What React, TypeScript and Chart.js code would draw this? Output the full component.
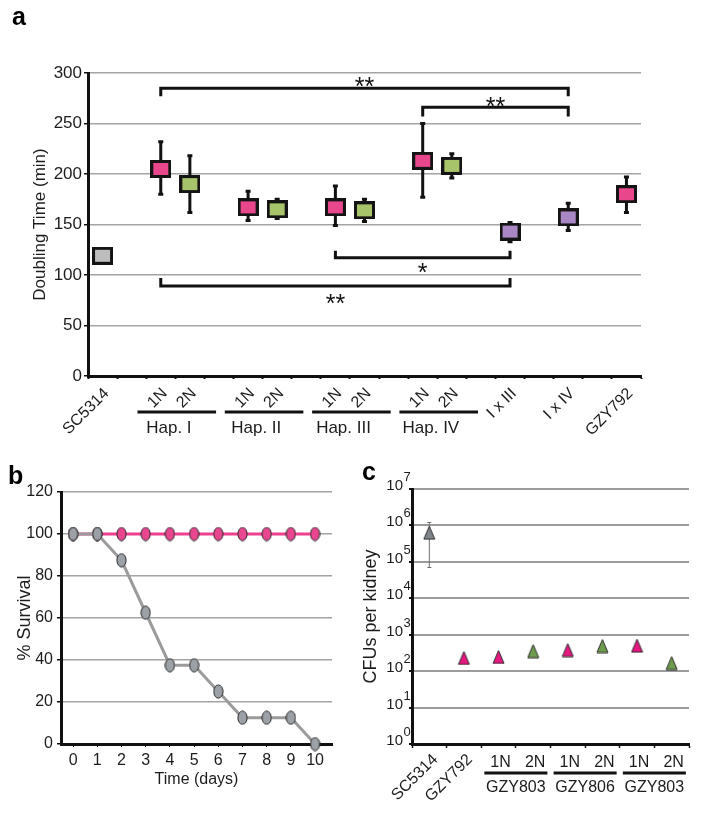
import { useEffect, useRef } from 'react';
import { Chart, registerables } from 'chart.js';

Chart.register(...registerables);

const FONT = "'Liberation Sans', Arial, Helvetica, sans-serif";
const TEXT = '#1c1c1c';
const GRID = '#a4a4a4';
const AXIS = '#111111';

// ---------- panel a : doubling time ----------
const doublingCategories = ['SC5314', '', '1N', '2N', '', '1N', '2N', '', '1N', '2N', '', '1N', '2N', '', 'I x III', '', 'I x IV', '', 'GZY792'];
const doublingStrain = ['wild', '', 'haploid', 'diploid', '', 'haploid', 'diploid', '', 'haploid', 'diploid', '', 'haploid', 'diploid', '', 'cross', '', 'cross', '', 'haploid'];
const doublingMean = [119, null, 205, 190, null, 167, 165, null, 167, 164, null, 213, 208, null, 143, null, 157, null, 180];
const doublingLow = [117, null, 180, 162, null, 154, 156, null, 149, 153, null, 177, 196, null, 133, null, 144, null, 162];
const doublingHigh = [121, null, 232, 218, null, 183, 175, null, 188, 175, null, 250, 220, null, 152, null, 171, null, 197];
const haplotypeNames = ['Hap. I', 'Hap. II', 'Hap. III', 'Hap. IV'];
const haplotypeFirst = [2, 5, 8, 11];
const bracketFrom = [2, 11, 8, 2];
const bracketTo = [16, 16, 14, 14];
const bracketLevel = [285, 266, 117, 89];
const bracketTip = [277, 257, 124, 97];
const bracketMark = ['**', '**', '*', '**'];
const bracketMarkAt = [292, 272, 108, 77];

// ---------- panel b : survival ----------
const survivalDays = [0, 1, 2, 3, 4, 5, 6, 7, 8, 9, 10];
const survivalGZY792 = [100, 100, 100, 100, 100, 100, 100, 100, 100, 100, 100];
const survivalSC5314 = [100, 100, 87.5, 62.5, 37.5, 37.5, 25, 12.5, 12.5, 12.5, 0];

// ---------- panel c : CFUs ----------
const cfuCategories = ['SC5314', 'GZY792', '1N', '2N', '1N', '2N', '1N', '2N'];
const cfuStrain = ['wild', 'haploid', 'haploid', 'diploid', 'haploid', 'diploid', 'haploid', 'diploid'];
const cfuValues = [630000, 230, 245, 355, 380, 490, 500, 167];
const cfuLow = [70000, null, null, null, null, null, null, null];
const cfuHigh = [1200000, null, null, null, null, null, null, null];
const cfuGroupNames = ['GZY803', 'GZY806', 'GZY803'];
const cfuGroupFirst = [2, 4, 6];
const cfuDecades = [0, 1, 2, 3, 4, 5, 6, 7];

function sprite(w: number, h: number, draw: (g: CanvasRenderingContext2D) => void) {
  const c = document.createElement('canvas');
  c.width = w;
  c.height = h;
  const g = c.getContext('2d') as CanvasRenderingContext2D;
  draw(g);
  return c;
}
const makeBox = (fill: string) =>
  sprite(21, 18, (g) => {
    g.fillStyle = fill;
    g.fillRect(0, 0, 21, 18);
    g.strokeStyle = '#141414';
    g.lineWidth = 3;
    g.strokeRect(1.5, 1.5, 18, 15);
  });
const makeOval = (fill: string) =>
  sprite(11, 15, (g) => {
    g.beginPath();
    g.ellipse(5.5, 7.5, 4.6, 6.6, 0, 0, Math.PI * 2);
    g.fillStyle = fill;
    g.fill();
    g.lineWidth = 1;
    g.strokeStyle = '#2b2b2b';
    g.stroke();
  });
const makeTri = (fill: string) =>
  sprite(13, 15, (g) => {
    g.beginPath();
    g.moveTo(6.5, 1);
    g.lineTo(12, 14);
    g.lineTo(1, 14);
    g.closePath();
    g.fillStyle = fill;
    g.fill();
    g.lineWidth = 1;
    g.strokeStyle = '#2b2b2b';
    g.stroke();
  });

function panelLetter(letter: string, x: number, y: number, size: number) {
  return {
    id: 'letter' + letter,
    afterDraw(chart: any) {
      const ctx = chart.ctx;
      ctx.save();
      ctx.font = `bold ${size}px ${FONT}`;
      ctx.fillStyle = '#000';
      ctx.textAlign = 'left';
      ctx.textBaseline = 'alphabetic';
      ctx.fillText(letter, x, y);
      ctx.restore();
    },
  };
}

export default function App() {
  const refA = useRef<HTMLCanvasElement>(null);
  const refB = useRef<HTMLCanvasElement>(null);
  const refC = useRef<HTMLCanvasElement>(null);

  useEffect(() => {
    const charts: Chart[] = [];

    // ---------------- panel a ----------------
    const boxColors: Record<string, string> = { wild: '#bdbdbd', haploid: '#e9478c', diploid: '#a7c46b', cross: '#a986c4' };
    const boxStyles = doublingStrain.map((s) => (s ? makeBox(boxColors[s]) : 'circle'));

    const aPlugin = {
      id: 'panelA',
      beforeDatasetsDraw(chart: any) {
        const ctx = chart.ctx;
        const xs = chart.scales.x;
        const ys = chart.scales.y;
        ctx.save();
        ctx.strokeStyle = '#111';
        ctx.lineWidth = 3;
        doublingMean.forEach((m, i) => {
          if (m == null) return;
          const x = xs.getPixelForValue(i);
          const yh = ys.getPixelForValue(doublingHigh[i]);
          const yl = ys.getPixelForValue(doublingLow[i]);
          ctx.beginPath();
          ctx.moveTo(x, yh);
          ctx.lineTo(x, yl);
          ctx.moveTo(x - 2.5, yh);
          ctx.lineTo(x + 2.5, yh);
          ctx.moveTo(x - 2.5, yl);
          ctx.lineTo(x + 2.5, yl);
          ctx.stroke();
        });
        ctx.restore();
      },
      afterDatasetsDraw(chart: any) {
        const ctx = chart.ctx;
        const xs = chart.scales.x;
        const ys = chart.scales.y;
        ctx.save();
        ctx.strokeStyle = '#111';
        ctx.lineWidth = 3;
        ctx.fillStyle = '#111';
        ctx.font = `25px ${FONT}`;
        ctx.textAlign = 'center';
        ctx.textBaseline = 'alphabetic';
        bracketFrom.forEach((f, k) => {
          const x1 = xs.getPixelForValue(f);
          const x2 = xs.getPixelForValue(bracketTo[k]);
          const yb = ys.getPixelForValue(bracketLevel[k]);
          const yt = ys.getPixelForValue(bracketTip[k]);
          ctx.beginPath();
          ctx.moveTo(x1, yt);
          ctx.lineTo(x1, yb);
          ctx.lineTo(x2, yb);
          ctx.lineTo(x2, yt);
          ctx.stroke();
          const ym = ys.getPixelForValue(bracketMarkAt[k]);
          ctx.fillText(bracketMark[k], (x1 + x2) / 2, ym + 14);
        });
        ctx.restore();
      },
      afterDraw(chart: any) {
        const ctx = chart.ctx;
        const xs = chart.scales.x;
        const w = xs.width / doublingCategories.length;
        ctx.save();
        ctx.fillStyle = TEXT;
        ctx.font = `16px ${FONT}`;
        doublingCategories.forEach((lab, i) => {
          if (!lab) return;
          const px = xs.getPixelForValue(i);
          ctx.save();
          ctx.translate(px + 4, 391);
          ctx.rotate(-Math.PI / 4);
          ctx.textAlign = 'right';
          ctx.textBaseline = 'middle';
          ctx.fillText(lab, 0, 0);
          ctx.restore();
        });
        ctx.strokeStyle = '#111';
        ctx.lineWidth = 3;
        ctx.font = `17px ${FONT}`;
        ctx.textAlign = 'center';
        ctx.textBaseline = 'middle';
        haplotypeFirst.forEach((s, k) => {
          const x1 = xs.getPixelForValue(s) - 0.8 * w;
          const x2 = xs.getPixelForValue(s + 1) + 0.9 * w;
          ctx.beginPath();
          ctx.moveTo(x1, 412);
          ctx.lineTo(x2, 412);
          ctx.stroke();
          ctx.fillText(haplotypeNames[k], xs.getPixelForValue(s) + 0.28 * w, 428);
        });
        ctx.restore();
      },
    };

    charts.push(
      new Chart(refA.current as HTMLCanvasElement, {
        type: 'line',
        data: {
          labels: doublingCategories,
          datasets: [
            {
              data: doublingMean as any,
              showLine: false,
              pointStyle: ((c: any) => boxStyles[c.dataIndex]) as any,
              pointRadius: 9,
              pointHoverRadius: 9,
              clip: false as any,
            },
          ],
        },
        options: {
          animation: false,
          responsive: false,
          devicePixelRatio: 1,
          events: [],
          layout: { padding: { top: 73, right: 63, left: 0, bottom: 0 } },
          plugins: { legend: { display: false }, tooltip: { enabled: false } },
          scales: {
            x: {
              type: 'category',
              offset: true,
              ticks: { display: false },
              grid: { display: true, drawOnChartArea: false, offset: true, tickLength: 3, tickColor: AXIS, tickWidth: 2 },
              border: { display: true, color: AXIS, width: 3 },
              afterFit: (s: any) => {
                s.height = 84;
              },
            },
            y: {
              min: 0,
              max: 300,
              ticks: { stepSize: 50, font: { family: FONT, size: 17 }, color: TEXT, padding: 2 },
              grid: {
                color: (c: any) => (c.tick && c.tick.value === 0 ? 'rgba(0,0,0,0)' : GRID),
                lineWidth: 1.5,
                tickLength: 4,
                tickColor: AXIS,
              },
              border: { display: true, color: AXIS, width: 3 },
              title: { display: true, text: 'Doubling Time (min)', font: { family: FONT, size: 17 }, color: TEXT, padding: { top: 30, bottom: 0 } },
              afterFit: (s: any) => {
                s.width = 88;
              },
            },
          },
        } as any,
        plugins: [aPlugin, panelLetter('a', 12, 25, 25)],
      })
    );

    // ---------------- panel b ----------------
    const grayOval = makeOval('#9ba1a7');
    const pinkOval = makeOval('#e8478f');
    charts.push(
      new Chart(refB.current as HTMLCanvasElement, {
        type: 'line',
        data: {
          datasets: [
            {
              label: 'SC5314',
              data: survivalDays.map((d, i) => ({ x: d, y: survivalSC5314[i] })),
              borderColor: '#9b9b9b',
              borderWidth: 3,
              pointStyle: grayOval as any,
              pointRadius: 6,
              clip: false as any,
            },
            {
              label: 'GZY792',
              data: survivalDays.map((d, i) => ({ x: d, y: survivalGZY792[i] })),
              borderColor: '#ee3f8f',
              borderWidth: 3,
              pointStyle: pinkOval as any,
              pointRadius: 6,
              clip: false as any,
            },
          ],
        },
        options: {
          animation: false,
          responsive: false,
          devicePixelRatio: 1,
          events: [],
          layout: { padding: { top: 32, right: 28, left: 0, bottom: 0 } },
          plugins: { legend: { display: false }, tooltip: { enabled: false } },
          scales: {
            x: {
              type: 'linear',
              min: -0.5,
              max: 10.7,
              afterBuildTicks: (s: any) => {
                s.ticks = survivalDays.map((v) => ({ value: v }));
              },
              ticks: { font: { family: FONT, size: 16 }, color: TEXT, padding: 4, autoSkip: false, maxRotation: 0 },
              grid: { drawOnChartArea: false, tickLength: 3, tickColor: AXIS },
              border: { display: true, color: AXIS, width: 3 },
              title: { display: true, text: 'Time (days)', font: { family: FONT, size: 16 }, color: TEXT, padding: { top: 0, bottom: 25 } },
              afterFit: (s: any) => {
                s.height = 70;
              },
            },
            y: {
              min: 0,
              max: 120,
              ticks: { stepSize: 20, font: { family: FONT, size: 16 }, color: TEXT, padding: 4 },
              grid: {
                color: (c: any) => (c.tick && c.tick.value === 0 ? 'rgba(0,0,0,0)' : GRID),
                lineWidth: 1.5,
                tickLength: 4,
                tickColor: AXIS,
              },
              border: { display: true, color: AXIS, width: 3 },
              title: { display: true, text: '% Survival', font: { family: FONT, size: 18 }, color: TEXT, padding: { top: 14, bottom: 0 } },
              afterFit: (s: any) => {
                s.width = 61;
              },
            },
          },
        } as any,
        plugins: [panelLetter('b', 8, 24, 25)],
      })
    );

    // ---------------- panel c ----------------
    const triColors: Record<string, string> = { wild: '#7f858a', haploid: '#e6177f', diploid: '#6f9b4c' };
    const triStyles = cfuStrain.map((s) => makeTri(triColors[s]));
    const cPlugin = {
      id: 'panelC',
      beforeDatasetsDraw(chart: any) {
        const ctx = chart.ctx;
        const xs = chart.scales.x;
        const ys = chart.scales.y;
        ctx.save();
        ctx.strokeStyle = '#6e6e6e';
        ctx.lineWidth = 1;
        cfuLow.forEach((lo, i) => {
          const hi = cfuHigh[i];
          if (lo == null || hi == null) return;
          const x = xs.getPixelForValue(i);
          const y1 = ys.getPixelForValue(hi);
          const y2 = ys.getPixelForValue(lo);
          ctx.beginPath();
          ctx.moveTo(x, y1);
          ctx.lineTo(x, y2);
          ctx.moveTo(x - 2, y1);
          ctx.lineTo(x + 2, y1);
          ctx.moveTo(x - 2, y2);
          ctx.lineTo(x + 2, y2);
          ctx.stroke();
        });
        ctx.restore();
      },
      afterDraw(chart: any) {
        const ctx = chart.ctx;
        const xs = chart.scales.x;
        const ys = chart.scales.y;
        const w = xs.width / cfuCategories.length;
        ctx.save();
        ctx.fillStyle = TEXT;
        ctx.textBaseline = 'alphabetic';
        cfuDecades.forEach((e) => {
          const y = ys.getPixelForValue(Math.pow(10, e));
          const xr = ys.right - 9;
          ctx.font = `15px ${FONT}`;
          ctx.textAlign = 'right';
          ctx.fillText('10', xr, y + 1);
          ctx.font = `13px ${FONT}`;
          ctx.textAlign = 'left';
          ctx.fillText(String(e), xr + 0.5, y - 8);
        });
        ctx.font = `16px ${FONT}`;
        cfuCategories.forEach((lab, i) => {
          const px = xs.getPixelForValue(i);
          if (i < 2) {
            ctx.save();
            ctx.translate(px + 6, 297);
            ctx.rotate(-Math.PI / 4);
            ctx.textAlign = 'right';
            ctx.textBaseline = 'middle';
            ctx.fillText(lab, 0, 0);
            ctx.restore();
          } else {
            ctx.textAlign = 'center';
            ctx.textBaseline = 'middle';
            ctx.fillText(lab, px + 2, 303);
          }
        });
        ctx.strokeStyle = '#111';
        ctx.lineWidth = 3;
        ctx.textAlign = 'center';
        ctx.textBaseline = 'middle';
        cfuGroupFirst.forEach((s, k) => {
          const x1 = xs.getPixelForValue(s) - 0.41 * w;
          const x2 = xs.getPixelForValue(s + 1) + 0.41 * w;
          ctx.beginPath();
          ctx.moveTo(x1, 313);
          ctx.lineTo(x2, 313);
          ctx.stroke();
          ctx.fillText(cfuGroupNames[k], (x1 + x2) / 2, 328);
        });
        ctx.restore();
      },
    };
    charts.push(
      new Chart(refC.current as HTMLCanvasElement, {
        type: 'line',
        data: {
          labels: cfuCategories,
          datasets: [
            {
              data: cfuValues,
              showLine: false,
              pointStyle: ((c: any) => triStyles[c.dataIndex]) as any,
              pointRadius: 7,
              pointHoverRadius: 7,
              clip: false as any,
            },
          ],
        },
        options: {
          animation: false,
          responsive: false,
          devicePixelRatio: 1,
          events: [],
          layout: { padding: { top: 29, right: 15, left: 0, bottom: 0 } },
          plugins: { legend: { display: false }, tooltip: { enabled: false } },
          scales: {
            x: {
              type: 'category',
              offset: true,
              ticks: { display: false },
              grid: { display: true, drawOnChartArea: false, offset: true, tickLength: 4, tickColor: AXIS, tickWidth: 1.5 },
              border: { display: true, color: AXIS, width: 3 },
              afterFit: (s: any) => {
                s.height = 70;
              },
            },
            y: {
              type: 'logarithmic',
              min: 1,
              max: 1e7,
              afterBuildTicks: (s: any) => {
                s.ticks = cfuDecades.map((e) => ({ value: Math.pow(10, e) }));
              },
              ticks: { display: false },
              grid: {
                color: (c: any) => (c.tick && c.tick.value === 1 ? 'rgba(0,0,0,0)' : '#9c9c9c'),
                lineWidth: 2,
                tickLength: 3,
                tickColor: AXIS,
              },
              border: { display: true, color: AXIS, width: 3 },
              title: { display: true, text: 'CFUs per kidney', font: { family: FONT, size: 18 }, color: TEXT, padding: { top: 0, bottom: 0 } },
              afterFit: (s: any) => {
                s.width = 52;
              },
            },
          },
        } as any,
        plugins: [cPlugin, panelLetter('c', 2, 20, 25)],
      })
    );

    return () => charts.forEach((c) => c.destroy());
  }, []);

  return (
    <div style={{ position: 'absolute', left: 0, top: 0, width: 704, height: 814, background: '#fff', overflow: 'hidden' }}>
      <canvas ref={refA} width={704} height={460} style={{ position: 'absolute', left: 0, top: 0, width: 704, height: 460 }} />
      <canvas ref={refB} width={360} height={354} style={{ position: 'absolute', left: 0, top: 460, width: 360, height: 354 }} />
      <canvas ref={refC} width={344} height={354} style={{ position: 'absolute', left: 360, top: 460, width: 344, height: 354 }} />
    </div>
  );
}
